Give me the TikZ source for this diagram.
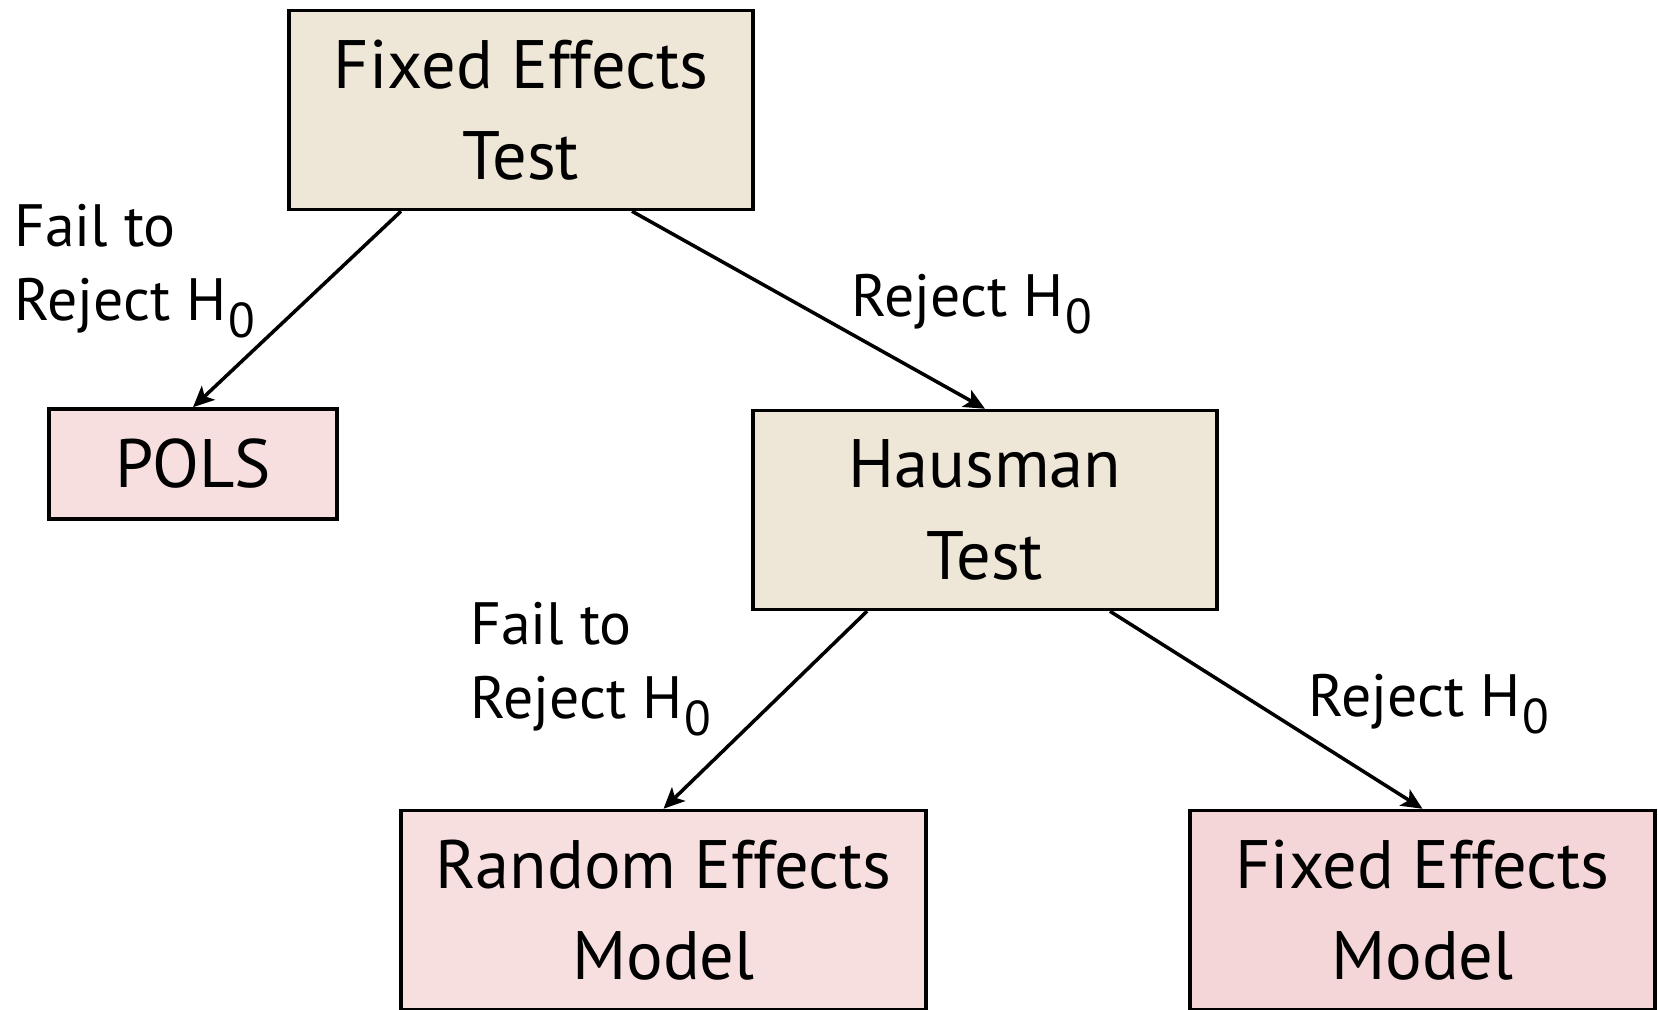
\documentclass[tikz,border=0pt]{standalone}
\usepackage{fontspec}
\setmainfont{PT Sans}
\usetikzlibrary{arrows.meta, positioning}
\definecolor{testbeige}{RGB}{238,230,214}
\definecolor{modelpink}{RGB}{247,223,224}
\definecolor{modelrose}{RGB}{244,214,216}
\newcommand{\nullsub}{\kern0.04em\raisebox{-0.28em}{\scalebox{0.82}{0}}}

\begin{document}
\begin{tikzpicture}[x=0.02cm, y=-0.02cm,
  testbox/.style={draw=black, line width=2pt, fill=testbeige, align=center,
    minimum width=9.28cm, minimum height=3.98cm, inner sep=0pt,
    font=\fontsize{39}{52}\selectfont},
  modelbox/.style={testbox, fill=modelpink},
  flow/.style={-{Stealth[length=0.42cm, width=0.38cm, inset=0.1cm]}, line width=2pt},
  decision/.style={anchor=north west, align=left, inner sep=0pt,
    font=\fontsize{34}{42}\selectfont}]
  \useasboundingbox (0,0) rectangle (1658,1009);

  % tests
  \node[testbox] (fetest) at (521,110) {Fixed Effects\\Test};
  \node[testbox] (hausman) at (985,510) {Hausman\\Test};

  % models
  \node[modelbox, minimum width=5.76cm, minimum height=2.2cm] (pols) at (193,464) {POLS};
  \node[modelbox, minimum width=10.5cm] (remodel) at (663.5,910) {Random Effects\\Model};
  \node[modelbox, fill=modelrose, minimum width=9.3cm] (femodel) at (1422.5,910) {Fixed Effects\\Model};

  % arrows
  \draw[flow] ([xshift=-2.4cm]fetest.south) -- (pols.north);
  \draw[flow] ([xshift=2.22cm]fetest.south) -- (hausman.north);
  \draw[flow] ([xshift=-2.36cm]hausman.south) -- (remodel.north);
  \draw[flow] ([xshift=2.5cm]hausman.south) -- (femodel.north);

  % decisions
  \node[decision] (fail1) at (14,204) {Fail to\\Reject H\nullsub};
  \node[decision] (rej1) at (851,274) {Reject H\nullsub};
  \node[decision] (fail2) at (470,602) {Fail to\\Reject H\nullsub};
  \node[decision] (rej2) at (1308,674) {Reject H\nullsub};
\end{tikzpicture}
\end{document}
